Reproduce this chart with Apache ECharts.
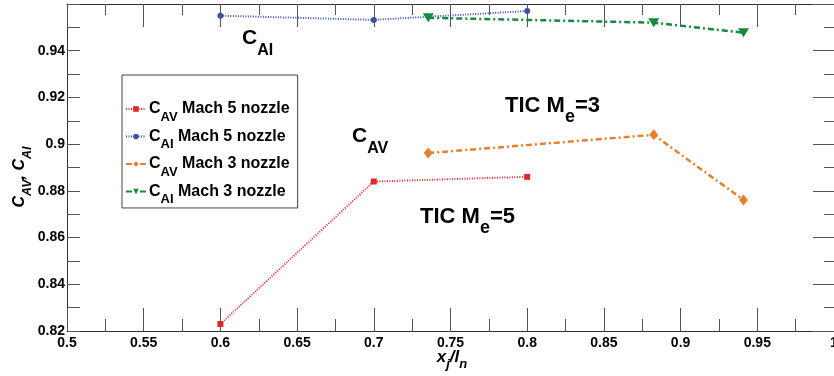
<!DOCTYPE html>
<html><head><meta charset="utf-8">
<script src="https://cdn.jsdelivr.net/npm/echarts@6/dist/echarts.min.js"></script>
<style>html,body{margin:0;padding:0;background:#fff}#c{width:834px;height:376px}</style>
</head><body><div id="c"></div>
<script>
// ---- data ----
const cavM5X = [0.6, 0.7, 0.8];
const cavM5Y = [0.823, 0.884, 0.886];
const caiM5X = [0.6, 0.7, 0.8];
const caiM5Y = [0.955, 0.9532, 0.957];
const cavM3X = [0.7355, 0.8825, 0.941];
const cavM3Y = [0.8962, 0.904, 0.8761];
const caiM3X = [0.7355, 0.8825, 0.941];
const caiM3Y = [0.9541, 0.952, 0.9477];
const seriesNames = ['C_AV Mach 5 nozzle', 'C_AI Mach 5 nozzle', 'C_AV Mach 3 nozzle', 'C_AI Mach 3 nozzle'];
const xMin = 0.5, xMax = 1, xStep = 0.05;
const yMin = 0.82, yMax = 0.96, yStep = 0.02;

const FONT = 'Liberation Sans, Arial, sans-serif';
const zip = (xs, ys) => xs.map((x, i) => [x, ys[i]]);

function subRich(fm, fs, off, italic) {
  const p = 0.83 * (fm - fs) + off;
  const st = italic ? 'italic' : 'normal';
  return {
    m: {fontSize: fm, lineHeight: fm, fontWeight: 'bold', fontStyle: st, fontFamily: FONT, color: '#000', verticalAlign: 'top'},
    s: {fontSize: fs, lineHeight: fs, fontWeight: 'bold', fontStyle: st, fontFamily: FONT, color: '#000', verticalAlign: 'top', padding: [p, 0, 0, 0]}
  };
}

const chart = echarts.init(document.getElementById('c'));
const axisLineStyle = {color: '#333', width: 1};
const tickStyle = {color: '#555', width: 1};

const option = {
  animation: false,
  backgroundColor: '#fff',
  grid: {left: 67, right: 0, top: 4, bottom: 45, containLabel: false, outerBoundsMode: 'none'},
  xAxis: [{
    type: 'value', min: xMin, max: xMax, interval: xStep, position: 'bottom',
    axisLine: {show: true, onZero: false, lineStyle: axisLineStyle},
    axisTick: {show: true, inside: true, length: 23, lineStyle: tickStyle},
    minorTick: {show: true, splitNumber: 2, length: 12, lineStyle: tickStyle},
    splitLine: {show: false},
    axisLabel: {fontSize: 14, fontWeight: 'bold', fontFamily: FONT, color: '#000', margin: 5, showMaxLabel: true, hideOverlap: false}
  }, {
    type: 'value', min: xMin, max: xMax, interval: xStep, position: 'top',
    axisLine: {show: true, onZero: false, lineStyle: axisLineStyle},
    axisTick: {show: true, inside: true, length: 23, lineStyle: tickStyle},
    minorTick: {show: true, splitNumber: 2, length: 11, lineStyle: tickStyle},
    splitLine: {show: false},
    axisLabel: {show: false}
  }],
  yAxis: [{
    type: 'value', min: yMin, max: yMax, interval: yStep, position: 'left',
    axisLine: {show: true, onZero: false, lineStyle: axisLineStyle},
    axisTick: {show: true, inside: true, length: 13, lineStyle: tickStyle},
    minorTick: {show: true, splitNumber: 2, length: 13, lineStyle: tickStyle},
    splitLine: {show: false},
    axisLabel: {fontSize: 14, fontWeight: 'bold', fontFamily: FONT, color: '#000', margin: 2,
      formatter: v => (v > 0.955 ? '' : String(+v.toFixed(2)))}
  }, {
    type: 'value', min: yMin, max: yMax, interval: yStep, position: 'right',
    axisLine: {show: true, onZero: false, lineStyle: axisLineStyle},
    axisTick: {show: true, inside: true, length: 21, lineStyle: tickStyle},
    minorTick: {show: true, splitNumber: 2, length: 10, lineStyle: tickStyle},
    splitLine: {show: false},
    axisLabel: {show: false}
  }],
  legend: {
    orient: 'vertical', left: 122, top: 75, selectedMode: false,
    data: seriesNames,
    itemWidth: 20, itemHeight: 7, itemGap: 5,
    padding: [26, 8, 2, 3],
    borderColor: '#444', borderWidth: 1, backgroundColor: '#fff',
    formatter: name => {
      const parts = name.split(' ');
      const sub = parts[0].split('_')[1];
      return '{m|C}{s|' + sub + '}{m| ' + parts.slice(1).join(' ') + '}';
    },
    textStyle: {rich: subRich(16, 13, 7, false), padding: [0, 0, 0, -2]}
  },
  series: [{
    name: seriesNames[0], type: 'line', data: zip(cavM5X, cavM5Y),
    symbol: 'rect', symbolSize: 6, itemStyle: {color: '#e5252a'},
    lineStyle: {color: '#e5252a', width: 2, type: [1, 1.5]}
  }, {
    name: seriesNames[1], type: 'line', data: zip(caiM5X, caiM5Y),
    symbol: 'circle', symbolSize: 6, itemStyle: {color: '#3a52a3'},
    lineStyle: {color: '#3a52a3', width: 2, type: [1, 1.5]}
  }, {
    name: seriesNames[2], type: 'line', data: zip(cavM3X, cavM3Y),
    symbol: 'diamond', symbolSize: [9, 11], itemStyle: {color: '#e3822a'},
    lineStyle: {color: '#e3822a', width: 2.5, type: [6, 3, 2, 3]}
  }, {
    name: seriesNames[3], type: 'line', data: zip(caiM3X, caiM3Y),
    symbol: 'triangle', symbolRotate: 180, symbolSize: [11, 9], itemStyle: {color: '#138a3e'},
    lineStyle: {color: '#138a3e', width: 2.5, type: [6, 3, 2, 3]}
  }],
  graphic: [
    {type: 'text', x: 242, y: 28, style: {text: '{m|C}{s|AI}', rich: subRich(21, 16, 10.5, false), align: 'left', verticalAlign: 'top'}},
    {type: 'text', x: 352, y: 126, style: {text: '{m|C}{s|AV}', rich: subRich(21, 16, 10.5, false), align: 'left', verticalAlign: 'top'}},
    {type: 'text', x: 505, y: 95, style: {text: '{m|TIC M}{s|e}{m|=3}', rich: subRich(22, 18, 10, false), align: 'left', verticalAlign: 'top'}},
    {type: 'text', x: 420, y: 206, style: {text: '{m|TIC M}{s|e}{m|=5}', rich: subRich(22, 18, 10, false), align: 'left', verticalAlign: 'top'}},
    {type: 'text', x: 12, y: 177, rotation: Math.PI / 2, style: {text: '{m|C}{s|AV}{m|, C}{s|AI}', rich: subRich(16, 12.5, 6, true), align: 'center', verticalAlign: 'top'}},
    {type: 'text', x: 452, y: 349, style: {text: '{m|x}{s|j}{m|/l}{s|n}', rich: subRich(17, 13, 6, true), align: 'center', verticalAlign: 'top'}}
  ]
};
chart.setOption(option);
</script></body></html>
